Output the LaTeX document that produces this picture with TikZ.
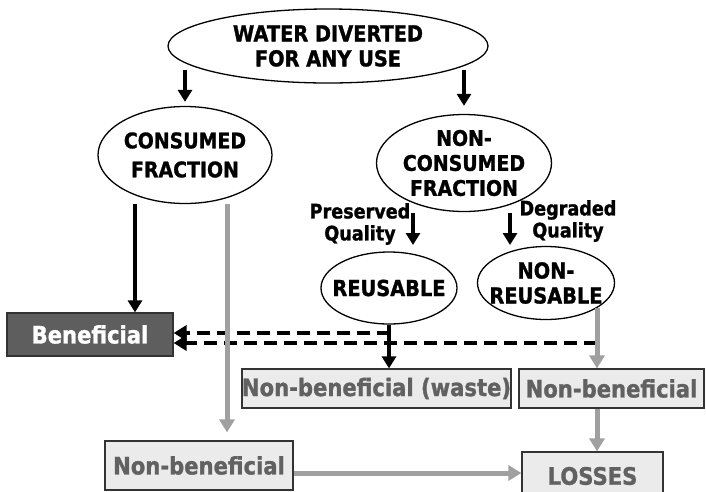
\documentclass[tikz,border=0pt]{standalone}
\usepackage{fontspec}
\setmainfont{DejaVu Sans}[FakeStretch=0.88, BoldFeatures={FakeBold=1.2}]
\usetikzlibrary{shapes.geometric,arrows.meta}
\definecolor{arrowgray}{HTML}{A0A0A0}
\definecolor{boxgray}{HTML}{EBEBEB}
\definecolor{textgray}{HTML}{616161}
\definecolor{darkfill}{HTML}{5E5E5E}

\begin{document}
\begin{tikzpicture}[
  x=1pt, y=-1pt,
  oval/.style={ellipse, draw, line width=1.3pt, inner xsep=-10pt, inner ysep=0pt, align=center, font=\bfseries\fontsize{22}{25}\selectfont},
  lossbox/.style={rectangle, draw=black!80, line width=1.2pt, fill=boxgray, text=textgray, inner sep=0pt, font=\bfseries\fontsize{24}{28}\selectfont},
  benbox/.style={lossbox, fill=darkfill, text=white},
  quality/.style={align=center, font=\bfseries\fontsize{20}{22}\selectfont},
  blk/.style={-{Triangle[width=14pt,length=12pt]}, line width=3.6pt},
  gry/.style={-{Triangle[width=15pt,length=13pt]}, line width=5pt, draw=arrowgray, fill=arrowgray},
  dsh/.style={-{Triangle[width=15pt,length=13pt]}, line width=3.8pt, dash pattern=on 13pt off 7pt}
]
\clip (0,0) rectangle (706,491);

\node[oval, minimum width=320pt, minimum height=74pt] (water) at (328,46) {WATER DIVERTED\\FOR ANY USE};
\node[oval, minimum width=174pt, minimum height=97pt, font=\bfseries\fontsize{21.5}{29}\selectfont] (consumed) at (185,155) {CONSUMED\\FRACTION};
\node[oval, minimum width=175pt, minimum height=97pt, font=\bfseries\fontsize{21.5}{25}\selectfont] (noncons) at (464,163) {NON-\\CONSUMED\\FRACTION};
\node[quality] (preserved) at (360,224) {Preserved\\Quality};
\node[quality] (degraded) at (568,221) {Degraded\\Quality};
\node[oval, minimum width=136pt, minimum height=72pt] (reusable) at (389,288) {REUSABLE};
\node[oval, minimum width=137pt, minimum height=73pt] (nonreus) at (546,283) {NON-\\REUSABLE};

\node[benbox, minimum width=166pt, minimum height=43pt] (benef) at (90,334.5) {Beneficial};
\node[lossbox, minimum width=269pt, minimum height=39pt] (waste) at (376.5,388.5) {Non-beneficial (waste)};
\node[lossbox, minimum width=185pt, minimum height=39pt] (nbright) at (611.5,388.5) {Non-beneficial};
\node[lossbox, minimum width=188pt, minimum height=49pt] (nbbot) at (199,465.5) {Non-beneficial};
\node[lossbox, minimum width=141pt, minimum height=48pt] (losses) at (592.5,476) {LOSSES};

\coordinate (pq) at (413,213);
\coordinate (dq) at (510,213);
\coordinate (du) at (390,333);
\coordinate (dl) at (597,343);
\coordinate (nr) at (597,308);

% dashed returns to beneficial use
\draw[dsh] (du) -- (du -| benef.east);
\draw[dsh] (dl) -- (dl -| benef.east);

\draw[blk] ([yshift=14pt]consumed.north |- water.south) -- ([yshift=4pt]consumed.north);
\draw[blk] ([yshift=14pt]noncons.north |- water.south) -- ([yshift=8pt]noncons.north);
\draw[blk] ([xshift=45pt]benef.north |- consumed.south) -- ([xshift=45pt]benef.north);
\draw[gry] ([xshift=28pt]nbbot.north |- consumed.south) -- ([xshift=28pt,yshift=8pt]nbbot.north);
\draw[blk] (pq) -- ++(0,32);
\draw[blk] (dq) -- ++(0,32);
\draw[blk] (reusable.south) -- (reusable.south |- waste.north);
\draw[gry] (nr) -- (nr |- nbright.north);
\draw[gry] ([xshift=-14.5pt]nbright.south) -- ([xshift=-14.5pt]nbright.south |- losses.north);
\draw[gry] ([yshift=-7.5pt]nbbot.east) -- ([yshift=-7.5pt]nbbot.east -| losses.west);
\end{tikzpicture}
\end{document}
